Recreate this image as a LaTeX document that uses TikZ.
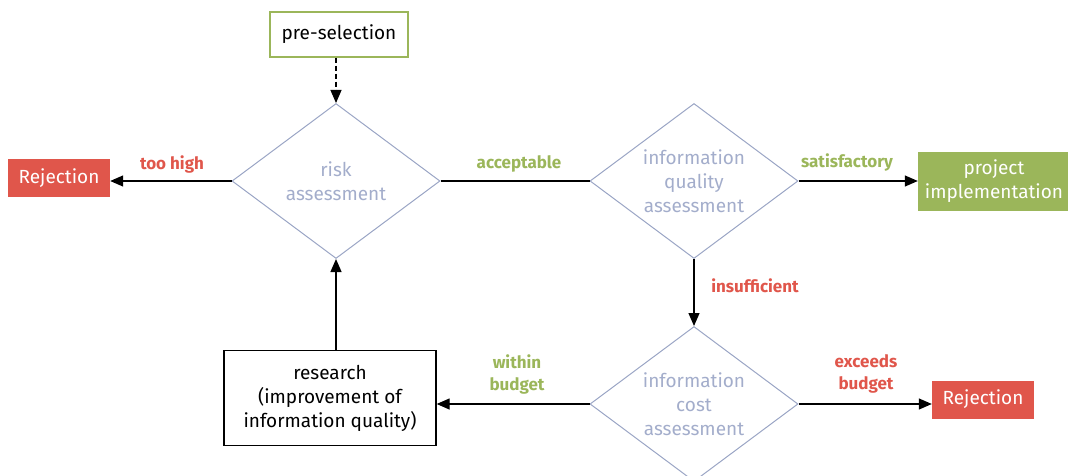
\documentclass[tikz,border=0pt]{standalone}
\usepackage{fontspec}
\setmainfont{Fira Sans}
\usetikzlibrary{shapes.geometric,arrows.meta}
\definecolor{rejred}{HTML}{E0564B}
\definecolor{okgreen}{HTML}{9BB65A}
\definecolor{dialine}{HTML}{9AA5C5}
\definecolor{diatext}{HTML}{A3ADCB}
\tikzset{
  txt/.style={font=\fontsize{19}{24}\selectfont, align=center},
  decision/.style={txt, shape=diamond, draw=dialine, line width=1pt, text=diatext,
    inner sep=0pt, aspect=1.34, minimum width=208pt, minimum height=155pt},
  rejbox/.style={txt, fill=rejred, text=white, minimum width=102pt, minimum height=38pt, inner sep=0pt},
  lbl/.style={font=\fontsize{17}{22}\selectfont\bfseries, align=center},
  conn/.style={line width=1.3pt, black},
  arr/.style={conn, -{Triangle[length=13pt,width=11pt]}},
}
\begin{document}
\begin{tikzpicture}[x=1pt,y=-1pt]
\useasboundingbox (0,0) rectangle (1068,476);
\clip (0,0) rectangle (1068,476);
\node[txt, draw=okgreen, line width=1.2pt, minimum width=138pt, minimum height=45pt, inner sep=0pt] (pre) at (339,34.5) {pre-selection};
\node[decision] (risk) at (336,181) {risk\\assessment};
\node[decision] (iq) at (694,181) {information\\quality\\assessment};
\node[decision] (cost) at (694,404) {information\\cost\\assessment};
\node[rejbox] (rejL) at (59,178) {Rejection};
\node[rejbox] (rejR) at (983,399.5) {Rejection};
\node[txt, fill=okgreen, text=white, minimum width=152pt, minimum height=59pt, inner sep=0pt] (proj) at (994,181.5) {project\\implementation};
\node[txt, draw=black, line width=1.3pt, minimum width=212pt, minimum height=95pt, inner sep=0pt] (res) at (330,398) {research\\(improvement of\\information quality)};

\node[lbl, text=rejred] (lhigh) at (172,164) {too high};
\node[lbl, text=okgreen] (lacc) at (519,164) {acceptable};
\node[lbl, text=okgreen] (lsat) at (847,162) {satisfactory};
\node[lbl, text=rejred] (lins) at (755,286) {insufficient};
\node[lbl, text=okgreen] (lwit) at (517,374) {within\\budget};
\node[lbl, text=rejred] (lexc) at (866,374) {exceeds\\budget};

\draw[arr, dash pattern=on 5pt off 3pt, line width=1.1pt] (pre.south -| risk.north) -- (risk.north);
\draw[arr] (risk.west) -- (risk.west -| rejL.east);
\draw[conn] (risk.east) -- (iq.west);
\draw[arr] (iq.east) -- (iq.east -| proj.west);
\draw[arr] (iq.south) -- (cost.north);
\draw[arr] (cost.east) -- (cost.east -| rejR.west);
\draw[arr] (cost.west) -- (cost.west -| res.east);
\draw[arr] (res.north -| risk.south) -- (risk.south);
\end{tikzpicture}
\end{document}
